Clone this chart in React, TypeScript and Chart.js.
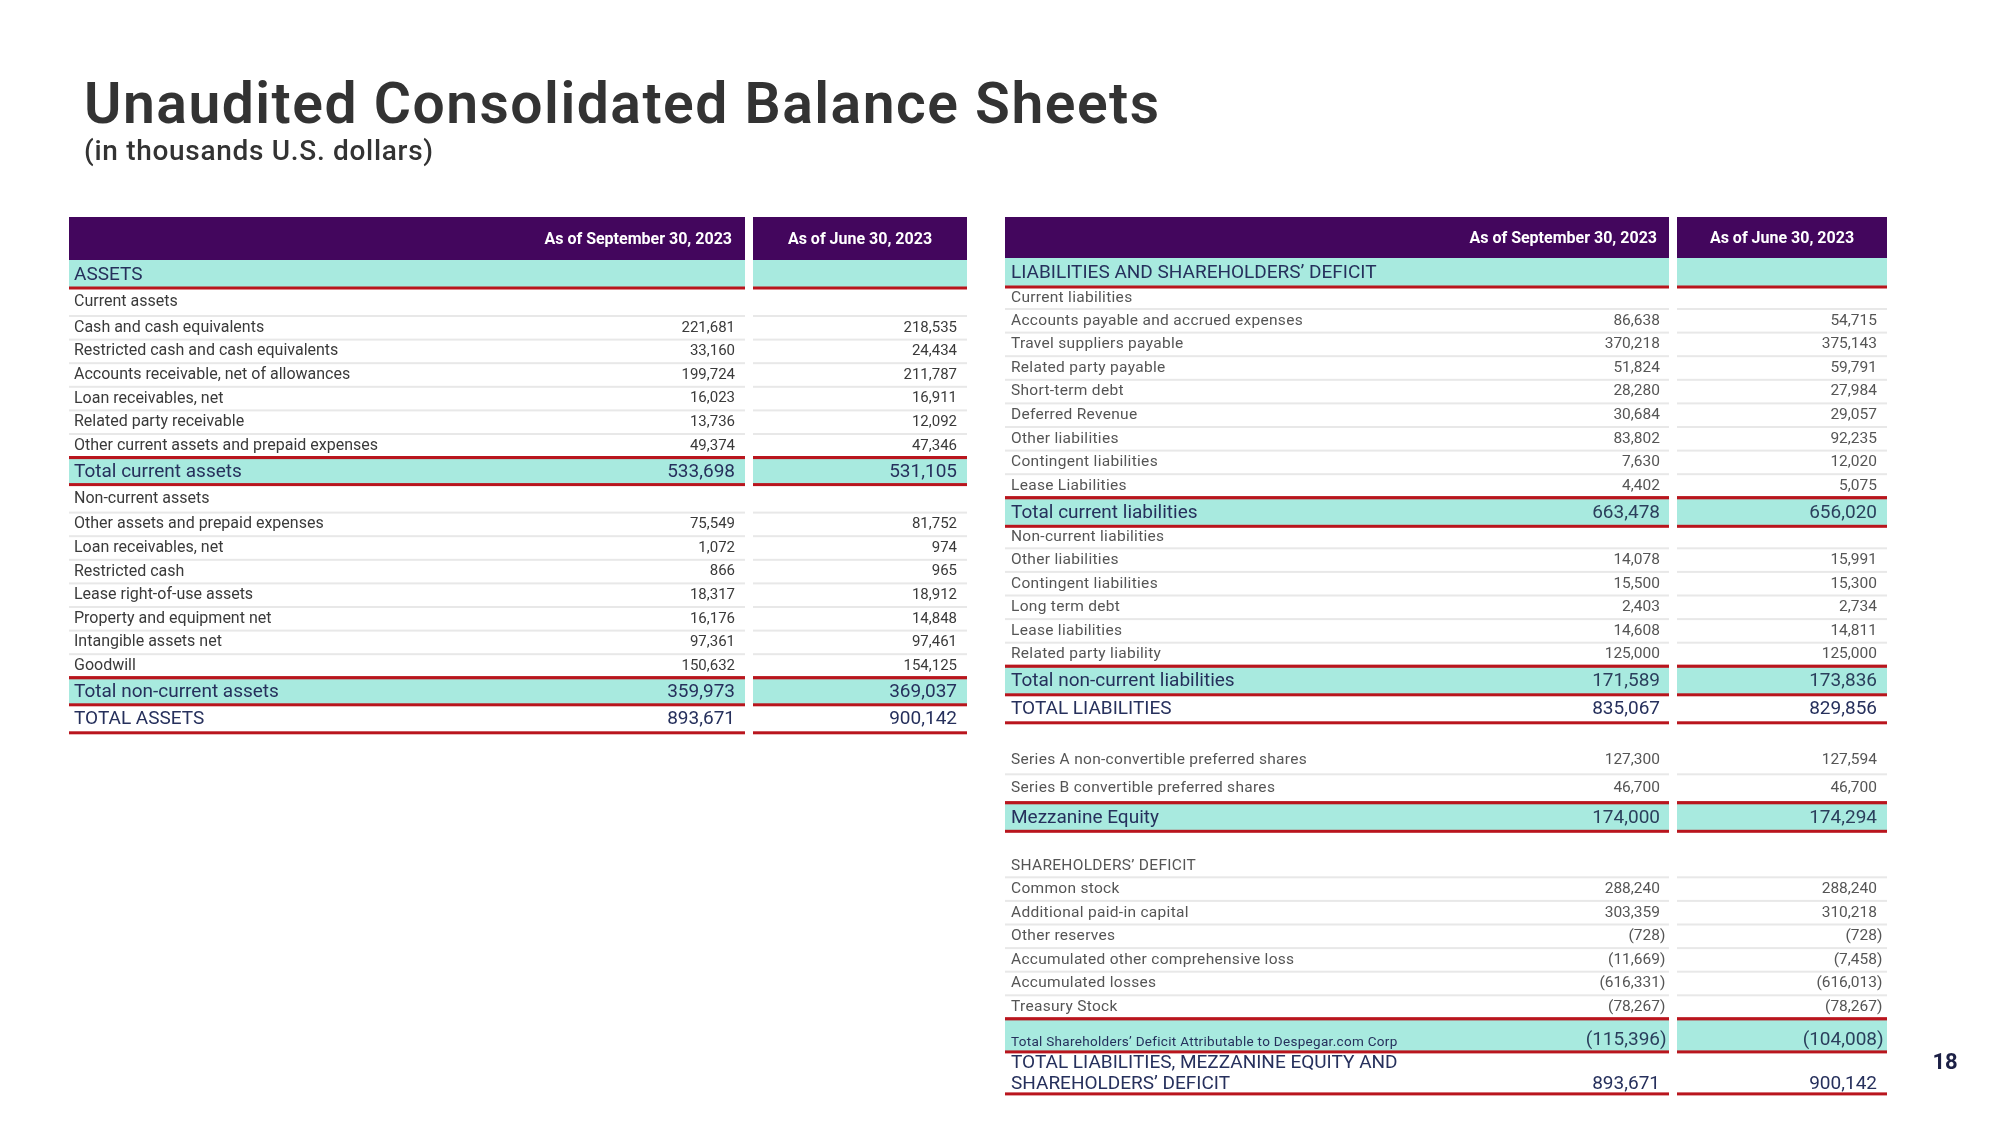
import React, { useEffect, useRef } from "react";
import { Chart, registerables } from "chart.js";

Chart.register(...registerables);

// ---------------- DATA ----------------
const pageTitle = "Unaudited Consolidated Balance Sheets";
const pageSubtitle = "(in thousands U.S. dollars)";
const pageNumber = "18";
const columnHeaders = ["As of September 30, 2023", "As of June 30, 2023"];

const assetLabels = [
  "ASSETS",
  "Current assets",
  "Cash and cash equivalents",
  "Restricted cash and cash equivalents",
  "Accounts receivable, net of allowances",
  "Loan receivables, net",
  "Related party receivable",
  "Other current assets and prepaid expenses",
  "Total current assets",
  "Non-current assets",
  "Other assets and prepaid expenses",
  "Loan receivables, net",
  "Restricted cash",
  "Lease right-of-use assets",
  "Property and equipment net",
  "Intangible assets net",
  "Goodwill",
  "Total non-current assets",
  "TOTAL ASSETS",
];
const assetKinds = [
  "section", "sub", "item", "item", "item", "item", "item", "item", "total",
  "sub", "item", "item", "item", "item", "item", "item", "item", "total", "grand",
];
const assetsSep2023 = [
  null, null, 221681, 33160, 199724, 16023, 13736, 49374, 533698,
  null, 75549, 1072, 866, 18317, 16176, 97361, 150632, 359973, 893671,
];
const assetsJun2023 = [
  null, null, 218535, 24434, 211787, 16911, 12092, 47346, 531105,
  null, 81752, 974, 965, 18912, 14848, 97461, 154125, 369037, 900142,
];

const liabLabels = [
  "LIABILITIES AND SHAREHOLDERS’ DEFICIT",
  "Current liabilities",
  "Accounts payable and accrued expenses",
  "Travel suppliers payable",
  "Related party payable",
  "Short-term debt",
  "Deferred Revenue",
  "Other liabilities",
  "Contingent liabilities",
  "Lease Liabilities",
  "Total current liabilities",
  "Non-current liabilities",
  "Other liabilities",
  "Contingent liabilities",
  "Long term debt",
  "Lease liabilities",
  "Related party liability",
  "Total non-current liabilities",
  "TOTAL LIABILITIES",
  "",
  "Series A non-convertible preferred shares",
  "Series B convertible preferred shares",
  "Mezzanine Equity",
  "",
  "SHAREHOLDERS’ DEFICIT",
  "Common stock",
  "Additional paid-in capital",
  "Other reserves",
  "Accumulated other comprehensive loss",
  "Accumulated losses",
  "Treasury Stock",
  "Total Shareholders’ Deficit Attributable to Despegar.com Corp",
  "TOTAL LIABILITIES, MEZZANINE EQUITY AND\nSHAREHOLDERS’ DEFICIT",
];
const liabKinds = [
  "section", "sub", "item", "item", "item", "item", "item", "item", "item", "item", "total",
  "sub", "item", "item", "item", "item", "item", "total", "grand",
  "spacer", "mezz", "mezz", "total", "spacer2",
  "sub", "item", "item", "item", "item", "item", "item", "totalSmall", "grand2",
];
const liabSep2023 = [
  null, null, 86638, 370218, 51824, 28280, 30684, 83802, 7630, 4402, 663478,
  null, 14078, 15500, 2403, 14608, 125000, 171589, 835067,
  null, 127300, 46700, 174000, null,
  null, 288240, 303359, -728, -11669, -616331, -78267, -115396, 893671,
];
const liabJun2023 = [
  null, null, 54715, 375143, 59791, 27984, 29057, 92235, 12020, 5075, 656020,
  null, 15991, 15300, 2734, 14811, 125000, 173836, 829856,
  null, 127594, 46700, 174294, null,
  null, 288240, 310218, -728, -7458, -616013, -78267, -104008, 900142,
];

// ---------------- STYLE ----------------
const PURPLE = "#43065d";
const TEAL = "#a8eadf";
const RED = "#b9151d";
const DIVIDER = "#e8e8e8";
const NAVY = "#26305c";
const FONT = "Roboto, 'Noto Sans', sans-serif";

type TableCfg = {
  labels: string[];
  kinds: string[];
  v1: (number | null)[];
  v2: (number | null)[];
  top: number;
  headerH: number;
  col1: [number, number];
  col2: [number, number];
  labelX: number;
  val1Right: number;
  val2Right: number;
  head1Right: number;
  heights: Record<string, number>;
  itemColor: string;
  itemFont: number;
  itemSpacing: number;
  valFont: number;
  bigFont: number;
  totalValColor: string;
};

function fmt(v: number) {
  return Math.abs(v).toLocaleString("en-US");
}

function setSpacing(ctx: CanvasRenderingContext2D, px: number) {
  (ctx as any).letterSpacing = `${px}px`;
}

function drawTable(ctx: CanvasRenderingContext2D, X: (v: number) => number, Y: (v: number) => number, c: TableCfg) {
  const cols = [c.col1, c.col2];
  // header
  ctx.fillStyle = PURPLE;
  cols.forEach(([a, b]) => ctx.fillRect(X(a), Y(c.top), X(b) - X(a), Y(c.top + c.headerH) - Y(c.top)));
  ctx.fillStyle = "#ffffff";
  ctx.font = `bold 16px ${FONT}`;
  setSpacing(ctx, 0);
  ctx.textBaseline = "middle";
  ctx.textAlign = "right";
  ctx.fillText(columnHeaders[0], X(c.head1Right), Y(c.top + c.headerH / 2 + 1));
  ctx.textAlign = "center";
  ctx.fillText(columnHeaders[1], X((c.col2[0] + c.col2[1]) / 2), Y(c.top + c.headerH / 2 + 1));

  let y = c.top + c.headerH;
  const redLine = (yy: number) => {
    ctx.fillStyle = RED;
    cols.forEach(([a, b]) => ctx.fillRect(X(a), Y(yy) - 1.5, X(b) - X(a), 3));
  };
  const grayLine = (yy: number) => {
    ctx.fillStyle = DIVIDER;
    cols.forEach(([a, b]) => ctx.fillRect(X(a), Y(yy) - 1, X(b) - X(a), 2));
  };
  const drawVal = (v: number | null, right: number, cy: number, size: number, color: string) => {
    if (v === null || v === undefined) return;
    ctx.font = `${size}px ${FONT}`;
    setSpacing(ctx, 0);
    ctx.fillStyle = color;
    ctx.textAlign = "right";
    if (v < 0) {
      ctx.textAlign = "left";
      ctx.fillText(")", X(right), Y(cy));
      ctx.textAlign = "right";
      ctx.fillText("(" + fmt(v), X(right), Y(cy));
    } else {
      ctx.fillText(fmt(v), X(right), Y(cy));
    }
  };

  c.labels.forEach((label, i) => {
    const kind = c.kinds[i];
    const h = c.heights[kind];
    const y0 = y;
    const y1 = y + h;
    const cy = (y0 + y1) / 2;
    const next = c.kinds[i + 1];
    const nextIsTotal = next === "total" || next === "totalSmall";
    ctx.textBaseline = "middle";
    setSpacing(ctx, 0);

    if (kind === "section") {
      ctx.fillStyle = TEAL;
      cols.forEach(([a, b]) => ctx.fillRect(X(a), Y(y0), X(b) - X(a), Y(y1) - Y(y0)));
      redLine(y1);
      ctx.font = `${c.bigFont}px ${FONT}`;
      ctx.fillStyle = NAVY;
      ctx.textAlign = "left";
      ctx.fillText(label, X(c.labelX), Y(cy + 1));
    } else if (kind === "sub" || kind === "item" || kind === "mezz") {
      ctx.font = `${c.itemFont}px ${FONT}`;
      setSpacing(ctx, c.itemSpacing);
      ctx.fillStyle = c.itemColor;
      ctx.textAlign = "left";
      ctx.fillText(label, X(c.labelX), Y(cy));
      drawVal(c.v1[i], c.val1Right, cy, c.valFont, c.itemColor);
      drawVal(c.v2[i], c.val2Right, cy, c.valFont, c.itemColor);
      if (nextIsTotal) redLine(y1);
      else grayLine(y1);
    } else if (kind === "total" || kind === "totalSmall") {
      ctx.fillStyle = TEAL;
      cols.forEach(([a, b]) => ctx.fillRect(X(a), Y(y0), X(b) - X(a), Y(y1) - Y(y0)));
      redLine(y0);
      redLine(y1);
      ctx.textAlign = "left";
      ctx.fillStyle = NAVY;
      if (kind === "totalSmall") {
        ctx.font = `13.5px ${FONT}`;
        setSpacing(ctx, 0.3);
        ctx.fillText(label, X(c.labelX), Y(y0 + 24));
        drawVal(c.v1[i], c.val1Right, y0 + 21, c.bigFont, c.totalValColor);
        drawVal(c.v2[i], c.val2Right, y0 + 21, c.bigFont, c.totalValColor);
      } else {
        ctx.font = `${c.bigFont}px ${FONT}`;
        ctx.fillText(label, X(c.labelX), Y(cy + 1));
        drawVal(c.v1[i], c.val1Right, cy + 1, c.bigFont, c.totalValColor);
        drawVal(c.v2[i], c.val2Right, cy + 1, c.bigFont, c.totalValColor);
      }
    } else if (kind === "grand") {
      ctx.font = `${c.bigFont}px ${FONT}`;
      ctx.fillStyle = NAVY;
      ctx.textAlign = "left";
      ctx.fillText(label, X(c.labelX), Y(cy));
      drawVal(c.v1[i], c.val1Right, cy, c.bigFont, NAVY);
      drawVal(c.v2[i], c.val2Right, cy, c.bigFont, NAVY);
      redLine(y1);
    } else if (kind === "grand2") {
      const lines = label.split("\n");
      ctx.font = `${c.bigFont}px ${FONT}`;
      ctx.fillStyle = NAVY;
      ctx.textAlign = "left";
      ctx.fillText(lines[0], X(c.labelX), Y(y0 + 11));
      ctx.fillText(lines[1] || "", X(c.labelX), Y(y0 + 32));
      drawVal(c.v1[i], c.val1Right, y0 + 32, c.bigFont, NAVY);
      drawVal(c.v2[i], c.val2Right, y0 + 32, c.bigFont, NAVY);
      redLine(y1);
    }
    y = y1;
  });
}

const tablePlugin = {
  id: "balanceSheet",
  beforeDraw(chart: any) {
    const ctx = chart.ctx as CanvasRenderingContext2D;
    ctx.save();
    ctx.fillStyle = "#ffffff";
    ctx.fillRect(0, 0, chart.width, chart.height);
    ctx.restore();
  },
  afterDraw(chart: any) {
    const ctx = chart.ctx as CanvasRenderingContext2D;
    const xs = chart.scales.x;
    const ys = chart.scales.y;
    const X = (v: number) => xs.getPixelForValue(v);
    const Y = (v: number) => ys.getPixelForValue(v);
    ctx.save();

    // title
    ctx.fillStyle = "#333333";
    ctx.textAlign = "left";
    ctx.textBaseline = "alphabetic";
    ctx.font = `600 57px ${FONT}`;
    setSpacing(ctx, 1.5);
    ctx.fillText(pageTitle, X(84), Y(123));
    ctx.font = `500 28px ${FONT}`;
    setSpacing(ctx, 0.7);
    ctx.fillText(pageSubtitle, X(84), Y(160));
    setSpacing(ctx, 0);

    drawTable(ctx, X, Y, {
      labels: assetLabels,
      kinds: assetKinds,
      v1: assetsSep2023,
      v2: assetsJun2023,
      top: 217,
      headerH: 43,
      col1: [69, 745],
      col2: [753, 967],
      labelX: 74,
      val1Right: 735,
      val2Right: 957,
      head1Right: 732,
      heights: { section: 28, sub: 28, item: 23.6, total: 27, grand: 28 },
      itemColor: "#3a3a3a",
      itemFont: 16,
      itemSpacing: 0,
      valFont: 15,
      bigFont: 19,
      totalValColor: NAVY,
    });

    drawTable(ctx, X, Y, {
      labels: liabLabels,
      kinds: liabKinds,
      v1: liabSep2023,
      v2: liabJun2023,
      top: 217,
      headerH: 41,
      col1: [1005, 1669],
      col2: [1677, 1887],
      labelX: 1011,
      val1Right: 1660,
      val2Right: 1877,
      head1Right: 1657,
      heights: {
        section: 29, sub: 22, item: 23.6, total: 28.5, grand: 28, spacer: 23, mezz: 28.5,
        spacer2: 24, totalSmall: 33, grand2: 42,
      },
      itemColor: "#555555",
      itemFont: 15.5,
      itemSpacing: 0.3,
      valFont: 15.5,
      bigFont: 19,
      totalValColor: "#2b3f5c",
    });

    // page number
    ctx.fillStyle = "#1c2046";
    ctx.font = `bold 22px ${FONT}`;
    ctx.textAlign = "center";
    ctx.textBaseline = "middle";
    ctx.fillText(pageNumber, X(1945), Y(1063));
    ctx.restore();
  },
};

export default function App() {
  const ref = useRef<HTMLCanvasElement | null>(null);
  useEffect(() => {
    document.body.style.margin = "0";
    const canvas = ref.current;
    if (!canvas) return;
    const chart = new Chart(canvas, {
      type: "scatter",
      data: { datasets: [] },
      options: {
        animation: false,
        responsive: false,
        devicePixelRatio: 1,
        layout: { padding: 0 },
        plugins: { legend: { display: false }, tooltip: { enabled: false } },
        scales: {
          x: { type: "linear", min: 0, max: 2000, display: false },
          y: { type: "linear", min: 0, max: 1125, reverse: true, display: false },
        },
      },
      plugins: [tablePlugin],
    } as any);
    return () => chart.destroy();
  }, []);
  return (
    <canvas ref={ref} width={2000} height={1125} style={{ display: "block", width: 2000, height: 1125 }} />
  );
}
